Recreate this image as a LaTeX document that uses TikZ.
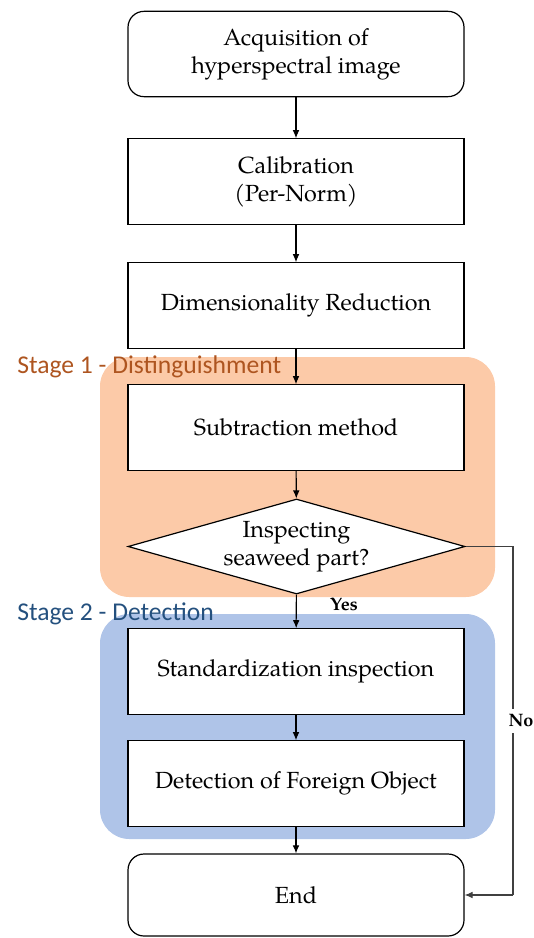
\documentclass[tikz,border=0pt]{standalone}
\usepackage{fontspec}
\setmainfont{TeX Gyre Pagella}
\newfontfamily\stagefont{Carlito}
\usetikzlibrary{shapes.geometric,arrows.meta}
\definecolor{orfill}{HTML}{FCCAA8}
\definecolor{blfill}{HTML}{AFC4E8}
\definecolor{stageone}{HTML}{AE5520}
\definecolor{stagetwo}{HTML}{24507E}
\begin{document}
\begin{tikzpicture}[x=0.75pt,y=-0.75pt,
  txt/.style={font=\fontsize{17.5}{21}\selectfont, align=center, inner sep=0pt},
  box/.style={draw, line width=0.9pt, fill=white, minimum width=252pt, minimum height=64pt, inner sep=0pt, txt},
  rbox/.style={box, rounded corners=12pt},
  region/.style={rounded corners=22pt, draw=none},
  stagelab/.style={font=\stagefont\fontsize{19.2}{22}\selectfont, anchor=west, inner sep=0pt},
  flow/.style={line width=0.8pt, -{Latex[length=6pt,width=5pt]}},
  small/.style={font=\bfseries\fontsize{13.5}{15}\selectfont, inner sep=1pt}
]
\useasboundingbox (0,0) rectangle (534,938);
% regions
\fill[orfill, region] (100,357) rectangle (495,597);
\fill[blfill, region] (100,614) rectangle (495,839);
\node[stagelab, text=stageone] (s1) at (17,367) {Stage 1 - Distinguishment};
\node[stagelab, text=stagetwo] (s2) at (17,614) {Stage 2 - Detection};
% nodes
\node[rbox] (acq) at (296,54) {Acquisition of\\hyperspectral image};
\node[box] (cal) at (296,181.5) {Calibration\\(Per-Norm)};
\node[box] (dim) at (296,305.5) {Dimensionality Reduction};
\node[box] (sub) at (296,427.5) {Subtraction method};
\node[draw, diamond, line width=0.9pt, fill=white, minimum width=252.75pt, minimum height=71.25pt, inner sep=0pt] (dec) at (296.5,546.5) {};
\node[txt] (dect) at (296.5,546.5) {Inspecting\\seaweed part?};
\node[box] (std) at (296,671.5) {Standardization inspection};
\node[box] (det) at (296,783.5) {Detection of Foreign Object};
\node[rbox, minimum height=61.5pt] (end) at (296,895) {End};
\coordinate (c1) at (513,546.5);
\coordinate (c2) at (513,895);
% connectors
\draw[flow] (acq) -- (cal);
\draw[flow] (cal) -- (dim);
\draw[flow] (dim) -- (sub);
\draw[flow] (sub) -- (dec);
\draw[flow] (dec) -- (std) node[small, pos=0.3, anchor=west, xshift=24pt] (yes) {Yes};
\draw[flow] (std) -- (det);
\draw[flow] (det) -- (end);
\draw[line width=0.8pt, draw=black!75] (dec.east) -- (c1) -- (c2);
\draw[flow, draw=black!75] (c2) -- (end.east);
\node[small, fill=white, inner ysep=4pt] (no) at (521,721) {No};
\end{tikzpicture}
\end{document}
